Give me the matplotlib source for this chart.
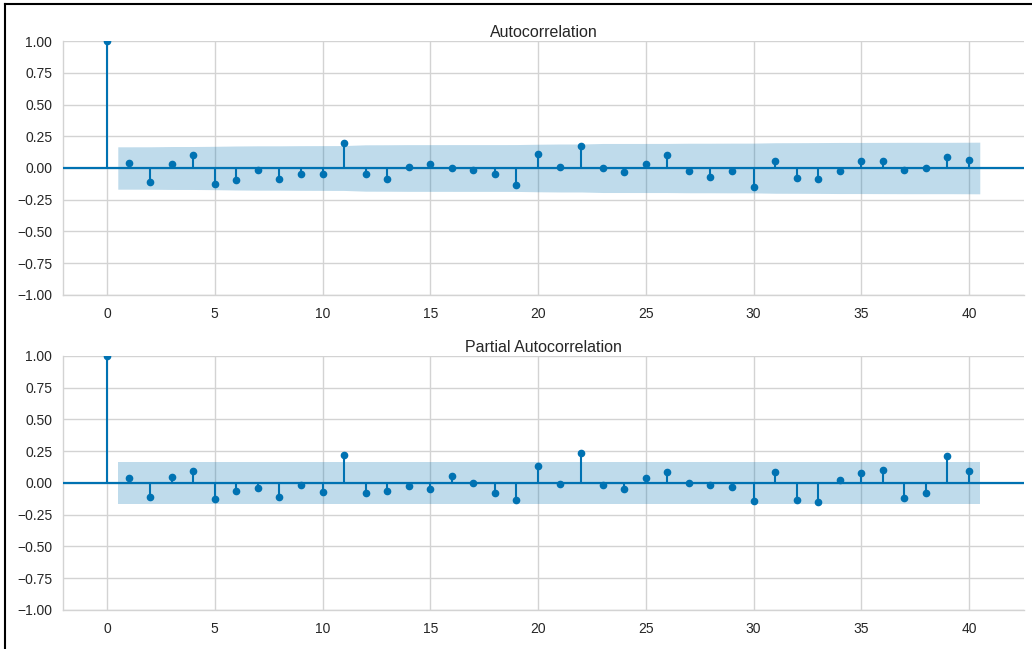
import numpy as np
import matplotlib
matplotlib.use("Agg")
import matplotlib.pyplot as plt
from matplotlib.lines import Line2D

# Sample autocorrelation (lag 0..40)
acf_values = [1.0,
              0.04, -0.108, 0.031, 0.10, -0.123, -0.092, -0.018, -0.087, -0.05, -0.05,
              0.197, -0.047, -0.083, 0.005, 0.029, -0.003, -0.018, -0.047, -0.131, 0.108,
              0.01, 0.171, 0.0, -0.031, 0.031, 0.105, -0.026, -0.07, -0.026, -0.147,
              0.055, -0.076, -0.087, -0.024, 0.058, 0.055, -0.016, -0.003, 0.089, 0.063]

# Sample partial autocorrelation (lag 0..40)
pacf_values = [1.0,
               0.042, -0.108, 0.047, 0.097, -0.129, -0.066, -0.039, -0.111, -0.018, -0.068,
               0.218, -0.082, -0.067, -0.024, -0.05, 0.055, -0.003, -0.079, -0.137, 0.132,
               -0.011, 0.234, -0.013, -0.047, 0.037, 0.084, -0.003, -0.016, -0.032, -0.139,
               0.089, -0.132, -0.153, 0.026, 0.082, 0.103, -0.121, -0.076, 0.213, 0.097]

nobs = 138
z_crit = 1.96

yticks = [-1.0, -0.75, -0.5, -0.25, 0.0, 0.25, 0.5, 0.75, 1.0]
xticks = [0, 5, 10, 15, 20, 25, 30, 35, 40]

plt.rcParams["font.family"] = ["Liberation Sans", "DejaVu Sans"]
plt.rcParams["axes.unicode_minus"] = True

color = "#0072B2"
grid_color = "#d3d3d3"

fig = plt.figure(figsize=(10.32, 6.49), dpi=100)
ax1 = fig.add_axes([0.0613, 0.5455, 0.9309, 0.3913])
ax2 = fig.add_axes([0.0613, 0.0601, 0.9309, 0.3914])


def conf_band(values, kind):
    vals = np.asarray(values, dtype=float)
    n_lags = len(vals) - 1
    if kind == "acf":
        cum = np.concatenate([[0.0], np.cumsum(vals[1:-1] ** 2)])
        se = np.sqrt((1 + 2 * cum) / nobs)
    else:
        se = np.full(n_lags, 1 / np.sqrt(nobs))
    return z_crit * se


def draw_corr(ax, values, title, kind):
    vals = np.asarray(values, dtype=float)
    lags = np.arange(len(vals))
    ax.set_axisbelow(True)
    ax.grid(True, color=grid_color, linewidth=1.0)
    ax.vlines(lags, 0, vals, color=color, linewidth=1.5, zorder=3)
    ax.plot(lags, vals, "o", color=color, markersize=4.5, zorder=4, clip_on=True)
    ax.axhline(0, color=color, linewidth=1.6, zorder=3)

    band = conf_band(values, kind)
    band_x = lags[1:].astype(float)
    band_x[0] -= 0.5
    band_x[-1] += 0.5
    ax.fill_between(band_x, -band, band, color=color, alpha=0.25, linewidth=0, zorder=2)

    ax.set_xlim(-2.03, 42.55)
    ax.set_ylim(-1.0, 1.0)
    ax.set_yticks(yticks)
    ax.set_yticklabels([f"{t:.2f}".replace("-", "\u2212") for t in yticks])
    ax.set_xticks(xticks)
    ax.tick_params(axis="both", length=0, labelsize=10, colors="#262626", pad=8)
    ax.tick_params(axis="x", pad=9)
    for side in ("top", "right"):
        ax.spines[side].set_visible(False)
    for side in ("left", "bottom"):
        ax.spines[side].set_color(grid_color)
        ax.spines[side].set_linewidth(1.0)
    ax.set_title(title, fontsize=11.5, color="#262626", pad=3)


draw_corr(ax1, acf_values, "Autocorrelation", "acf")
draw_corr(ax2, pacf_values, "Partial Autocorrelation", "pacf")

# Thin frame along the top and left edges of the figure
fig.add_artist(Line2D([0.005, 0.005], [0.0, 0.994], transform=fig.transFigure,
                      color="black", linewidth=1.5))
fig.add_artist(Line2D([0.005, 1.0], [0.994, 0.994], transform=fig.transFigure,
                      color="black", linewidth=1.5))

fig.savefig("out.png", dpi=100, facecolor="white")
